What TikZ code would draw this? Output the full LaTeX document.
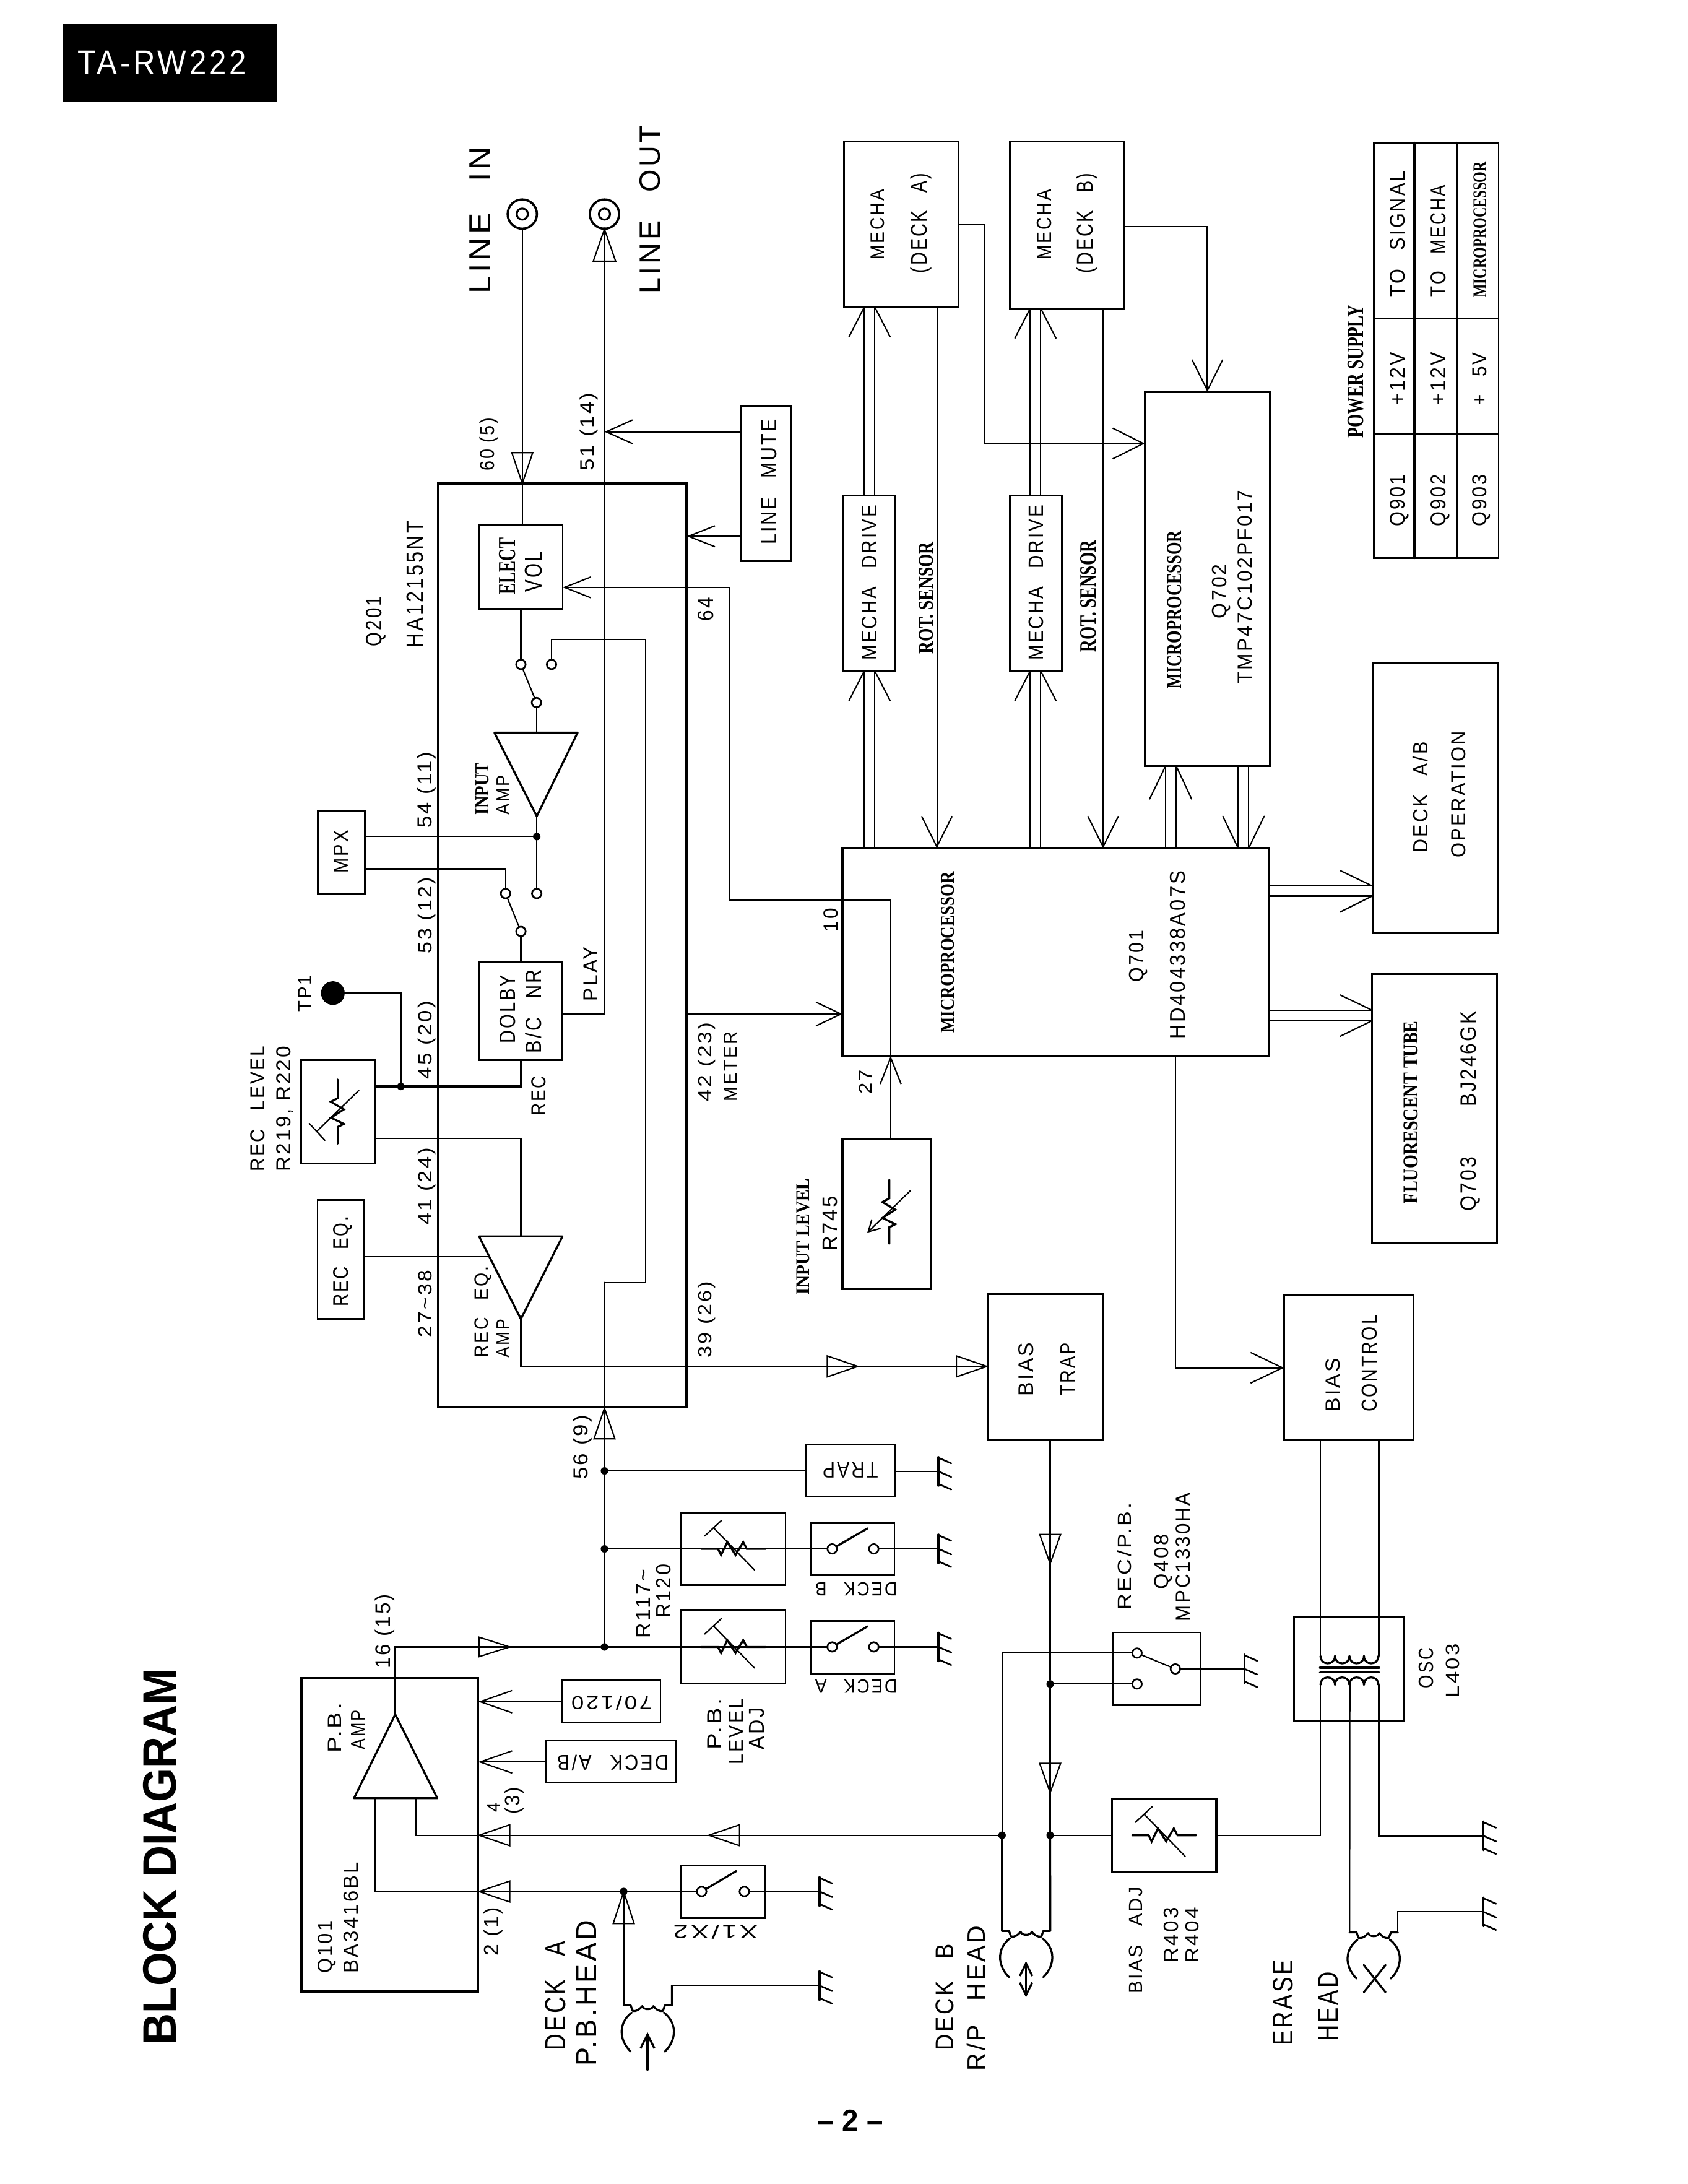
\documentclass[tikz,border=0pt]{standalone}
\usepackage{graphicx}
\usepackage{fontspec}
\usetikzlibrary{arrows.meta,calc}
\setmainfont{Liberation Sans}
\newfontfamily\plt{Liberation Sans}[LetterSpace=10,WordSpace=2.6]
\newfontfamily\pltn{Liberation Sans}[LetterSpace=9,WordSpace=1]
\newfontfamily\srf{Liberation Serif}
\newcommand\setsans{\normalfont\plt\fontsize{10}{12}\selectfont}
\newcommand\setnum{\normalfont\pltn\fontsize{10}{12}\selectfont}
\newcommand\setwh{\normalfont\plt\fontsize{10}{12}\selectfont\color{white}}
\newcommand\setser{\normalfont\srf\bfseries\fontsize{10}{12}\selectfont}
\newcommand\setbold{\normalfont\bfseries\fontsize{10}{12}\selectfont}
\newsavebox\mytbox
\newsavebox\mycbox
\newcounter{tc}
% fits text (font #1, length #2, cap height #3, text #4); run inside node text
\newcommand\fitted[4]{\sbox\mytbox{#1#4}\sbox\mycbox{#1H}%
 \edef\wdT{\the\wd\mytbox}\edef\htT{\the\ht\mycbox}%
 \pgfmathsetmacro\sxx{abs(#2)/\wdT}\pgfmathsetmacro\syy{abs(#3)/\htT}%
 \scalebox{\sxx}[\syy]{#1#4}}
% rotated text: xl xr ybottom ytop
\newcommand\vtxt[6][\setsans]{\stepcounter{tc}%
 \node[tx,rotate=90,anchor=base] (t\arabic{tc}) at ({#3},{(#4+#5)/2}) {\fitted{#1}{#4-#5}{#3-#2}{#6}};}
% upside-down text: x1 x2 ybase ycap
\newcommand\ftxt[6][\setsans]{\stepcounter{tc}%
 \node[tx,rotate=180,anchor=base] (t\arabic{tc}) at ({(#2+#3)/2},{#4}) {\fitted{#1}{#3-#2}{#5-#4}{#6}};}
% horizontal text: x1 x2 ycap ybase
\newcommand\htxt[6][\setsans]{\stepcounter{tc}%
 \node[tx,anchor=base] (t\arabic{tc}) at ({(#2+#3)/2},{#5}) {\fitted{#1}{#3-#2}{#5-#4}{#6}};}
% box: name x1 y1 x2 y2
\newcommand\blk[6][blkst]{\node[#1,minimum width={(#5-#3)*1pt},minimum height={(#6-#4)*1pt}] (#2) at ({(#3+#5)/2},{(#4+#6)/2}) {};}
\newcommand\jdot[3]{\node[jd] (#1) at (#2,#3) {};}
\newcommand\cont[3]{\node[ctc] (#1) at (#2,#3) {};}
\newcommand\gnd[3]{\coordinate (#1) at (#2,#3);
 \begin{scope}[shift={(#2,#3)}]
 \draw[thk] (0,-10.3)--(0,10.3);
 \draw[wire,line width=1.2pt] (0,-9.8)--(9.2,-5.8) (0,0)--(9.2,4) (0,9)--(9.2,13);
 \end{scope}}
\newcommand\otri[5]{\draw[wire,shift={(#1,#2)},rotate=#3] (0,0)--(#4,#5)--(#4,-#5)--cycle;}
\newcommand\rzig{\draw[thk] (-23,0)--(-11.1,0)--(-8.9,4.4)--(-4.4,-4.9)--(1.5,4.4)--(7,-4.9)--(9.6,0)--(23,0);}
\newcommand\rsym[3]{\begin{scope}[shift={(#1,#2)},rotate=#3]\rzig
 \draw[wire] (-14,-14.8)--(15.2,15.2) (-20.7,-9.2)--(-8.6,-20.4);\end{scope}}
\newcommand\rsymarrow[3]{\begin{scope}[shift={(#1,#2)},rotate=#3]\rzig
 \draw[wire,{Straight Barb[length=8pt,width=9pt]}-] (-15,-15.8)--(15.2,15.2);\end{scope}}
\newcommand\head[3]{\coordinate (#1-L) at ({#2-17.3},#3); \coordinate (#1-R) at ({#2+17.3},#3);
 \begin{scope}[shift={(#2,#3)}]
 \draw[thk,line join=round] (-17.3,0)--(-12.3,0)--(-10.9,4) .. controls (-8,4.5) and (-6,3) .. (-4,0.6) .. controls (-3,3.5) and (3,3.5) .. (4,0.6) .. controls (6,3) and (8,4.5) .. (10.9,4)--(12.3,0)--(17.3,0);
 \draw[thk] (-11.6,5.3) .. controls (-20.5,12) and (-21.5,24) .. (-12.3,33.2);
 \draw[thk] (11.6,5.3) .. controls (20.5,12) and (21.5,24) .. (12.3,33.2);
 \end{scope}}
\tikzset{
 tx/.style={inner sep=0pt,outer sep=0pt},
 wire/.style={line width=0.95pt,line cap=round},
 thk/.style={line width=1.45pt,line cap=round},
 blkst/.style={draw,line width=1.3pt,inner sep=0pt,outer sep=0pt},
 blkthk/.style={draw,line width=1.6pt,inner sep=0pt,outer sep=0pt},
 jd/.style={circle,fill=black,minimum size=5.4pt,inner sep=0pt,outer sep=0pt},
 ctc/.style={circle,draw,fill=white,line width=1.2pt,minimum size=6.8pt,inner sep=0pt,outer sep=0pt},
 vtip/.style 2 args={-{Straight Barb[length=#1pt,width=#2pt]}},
}
\begin{document}
\begin{tikzpicture}[x=1pt,y=-1pt]
\useasboundingbox (0,0) rectangle (1212,1568);
\fill[white] (0,0) rectangle (1212,1568);
% ---- boxes
\blk[draw,fill=black,inner sep=0pt]{title}{45.2}{17.7}{198.4}{73.1}
\blk[blkthk]{ic}{314.5}{347}{493}{1010.5}
\blk{ev}{344.4}{376.8}{404}{437}
\blk{mute}{532}{291.5}{568}{403}
\blk{mpx}{228.2}{582}{262}{641.5}
\blk{dolby}{344}{690.4}{403.8}{761}
\blk{rec}{216.4}{761}{269.4}{835.3}
\blk{receq}{228}{861.5}{261.6}{947}
\blk{mechaA}{606}{101.7}{688.3}{220.4}
\blk{mechaB}{725}{101.7}{807.4}{221.4}
\blk{driveA}{605.7}{355.8}{642.4}{481.6}
\blk{driveB}{725}{355.8}{762.5}{481.6}
\blk[blkthk]{q702}{822}{281.3}{911.8}{549.7}
\blk[blkthk]{q701}{605}{609}{911}{758}
\blk{ps}{986.6}{102.4}{1076}{400.7}
\blk{deckop}{985.5}{475.8}{1075.4}{669.8}
\blk{fluor}{985.2}{699.4}{1075}{892.7}
\blk[blkthk]{r745}{605}{817.9}{668.6}{925.5}
\blk{biastrap}{709.4}{929.2}{791.7}{1034}
\blk{biasctl}{922}{929.5}{1014.8}{1034}
\blk{trap}{579}{1037}{642.5}{1074.4}
\blk{r120}{489.2}{1085.8}{564}{1138}
\blk{r117}{489.2}{1155.9}{564}{1208.7}
\blk{swB}{582.5}{1093.6}{642.2}{1130.7}
\blk{swA}{582.5}{1163.6}{642.2}{1201.7}
\blk{q408}{798.7}{1172}{862}{1224.3}
\blk{osc}{928.9}{1161}{1007.8}{1235.5}
\blk[blkthk]{biasadj}{798.4}{1291.5}{873.2}{1344}
\blk[blkthk]{q101}{216.4}{1204.8}{343.3}{1429.7}
\blk{n70}{403.5}{1206.4}{474.2}{1236.7}
\blk{deckab}{391.6}{1249.4}{485}{1279.7}
\blk{swX}{488.5}{1339.4}{549}{1376.9}
% ---- jacks
\node[circle,draw,line width=1.6pt,minimum size=21pt,inner sep=0pt,outer sep=0pt] (jin) at (375,153.7) {};
\node[circle,draw,line width=1.4pt,minimum size=8pt,inner sep=0pt] (jinc) at (375,153.7) {};
\node[circle,draw,line width=1.6pt,minimum size=21pt,inner sep=0pt,outer sep=0pt] (jout) at (434,153.7) {};
\node[circle,draw,line width=1.4pt,minimum size=8pt,inner sep=0pt] (joutc) at (434,153.7) {};
\node[circle,fill=black,minimum size=17pt,inner sep=0pt,outer sep=0pt] (tp) at (239,713) {};
% ---- junctions
\jdot{j1}{434}{1182.4}\jdot{j2}{434}{1112}\jdot{j3}{434}{1056}
\jdot{jmpx}{385.4}{600.6}\jdot{jtp}{287.8}{780}
\jdot{jq}{719.5}{1317.6}\jdot{jb}{754}{1317.6}\jdot{jr}{754}{1209}\jdot{jhead}{447.8}{1358}
% ---- grounds
\gnd{gT}{673.8}{1056.4}\gnd{gB}{673.8}{1112}\gnd{gA}{673.8}{1182.4}
\gnd{g408}{893.5}{1198.2}\gnd{g1}{1065}{1318}\gnd{g2}{1065}{1372.6}
\gnd{gX}{588.4}{1358}\gnd{gH}{588.4}{1425.5}
% ---- heads
\head{hA}{465.1}{1439.7}\head{hB}{736.8}{1386.3}\head{hE}{986.3}{1387.3}
\draw[thk,{Straight Barb[length=10pt,width=10pt]}-] (464.9,1459)--(464.9,1486);
\draw[thk,{Straight Barb[length=9pt,width=9pt]}-{Straight Barb[length=9pt,width=9pt]}] (736.7,1408)--(736.7,1434);
\draw[thk] (979.2,1410.8)--(994.8,1430.3) (994.8,1410.8)--(979.2,1430.3);
% ---- contacts
\cont{sw1a}{374}{477}\cont{sw1b}{396}{477}\cont{sw1c}{385.2}{504.4}
\cont{sw2a}{363}{641.5}\cont{sw2b}{385.4}{641.5}\cont{sw2c}{374}{668.7}
\cont{sb1}{597.5}{1112}\cont{sb2}{627.4}{1112}
\cont{sa1}{597.5}{1182.4}\cont{sa2}{627.4}{1182.4}
\cont{sx1}{503.8}{1358}\cont{sx2}{534.4}{1358}
\cont{s4a}{816.4}{1186.8}\cont{s4b}{816.4}{1209}\cont{s4c}{843.9}{1198.2}
% ---- amplifiers
\coordinate (a1t) at (385.2,526); \coordinate (a1o) at (385.4,586);
\coordinate (a2t) at (374,887.7); \coordinate (a2o) at (374,947);
\coordinate (a3o) at (283.8,1230.8);
\draw[thk,line join=round] (355,526)--(414.7,526)--(a1o)--cycle;
\draw[thk,line join=round] (344,887.7)--(403.8,887.7)--(a2o)--cycle;
\draw[thk,line join=round] (254.2,1291)--(314,1291)--(a3o)--cycle;
% ---- resistor symbols
\rsym{242.5}{798}{90}\rsym{526.6}{1112}{0}\rsym{526.6}{1182.4}{0}\rsym{835.8}{1317.6}{0}
\rsymarrow{638.5}{870}{90}
% ---- signal wires
\draw[wire] (jin.south)--(jin |- ev.north);
\draw[wire] (dolby.east |- 0,728)-|(jout.south);
\draw[wire,vtip={19}{17}] (mute.west |- 0,310)--(jout |- 0,310);
\draw[wire,vtip={19}{15}] (mute.west |- 0,385)--(ic.east |- 0,385);
\coordinate (c27) at (639.5,817.9);
\draw[wire,vtip={19}{15}] (c27)--(c27 |- q701.south);
\draw[wire,vtip={19}{15}] (c27 |- q701.south)--(639.5,646.2)--(523.6,646.2)--(523.6,421.7)--(ev.east |- 0,421.7);
\draw[thk] (sw1a |- ev.south)--(sw1a);
\draw[wire] (sw1a)--(sw1c);
\draw[wire] (sw1c)--(a1t);
\draw[wire] (sw1b)--(396,459)--(463.6,459)--(463.6,921)--(434,921)--(j1);
\draw[wire] (a1o)--(jmpx);
\draw[wire] (jmpx)--(sw2b);
\draw[wire] (mpx.east |- jmpx)--(jmpx);
\draw[wire] (mpx.east |- 0,623.8)-|(sw2a);
\draw[wire] (sw2a)--(sw2c);
\draw[thk] (sw2c)--(sw2c |- dolby.north);
\draw[thk] (sw2c |- dolby.south)|-(jtp);
\draw[thk] (jtp)--(rec.east |- jtp);
\draw[wire] (tp)-|(jtp);
\draw[wire] (rec.east |- 0,817.3)-|(a2t);
\draw[wire] (receq.east |- 0,902.3)--(350.5,902.3);
\draw[wire,vtip={18}{17}] (ic.east |- 0,728)--(q701.west |- 0,728);
\draw[wire] (a2o)|-(biastrap.west |- 0,981);
% mecha pairs
\draw[wire] (620.6,0 |- q701.north)--(620.6,0 |- driveA.south) (628.1,0 |- q701.north)--(628.1,0 |- driveA.south);
\draw[wire] (620.6,0 |- driveA.north)--(620.6,0 |- mechaA.south) (628.1,0 |- driveA.north)--(628.1,0 |- mechaA.south);
\draw[wire] (739.7,0 |- q701.north)--(739.7,0 |- driveB.south) (747.2,0 |- q701.north)--(747.2,0 |- driveB.south);
\draw[wire] (739.7,0 |- driveB.north)--(739.7,0 |- mechaB.south) (747.2,0 |- driveB.north)--(747.2,0 |- mechaB.south);
\foreach \ax/\bx/\yy in {620.6/628.1/220.4,620.6/628.1/481.6,739.7/747.2/221.4,739.7/747.2/481.6}
 \draw[wire] (\ax,\yy)--++(-11,21.4) (\bx,\yy)--++(11,21.4);
\draw[wire,vtip={22}{22}] (672.7,0 |- mechaA.south)--(672.7,0 |- q701.north);
\draw[wire,vtip={22}{22}] (792,0 |- mechaB.south)--(792,0 |- q701.north);
\draw[wire,vtip={22}{22}] (mechaA.east |- 0,161.2)--(706.7,161.2)--(706.7,318.4)--(q702.west |- 0,318.4);
\draw[wire,vtip={22}{22}] (mechaB.east |- 0,162.6)-|(866.9,0 |- q702.north);
\draw[wire] (837,0 |- q701.north)--(837,0 |- q702.south) (844.4,0 |- q701.north)--(844.4,0 |- q702.south);
\draw[wire] (837,549.7)--++(-11.6,24) (844.4,549.7)--++(11.2,24);
\draw[wire] (889,0 |- q702.south)--(889,0 |- q701.north) (896.5,0 |- q702.south)--(896.5,0 |- q701.north);
\draw[wire] (889,609)--++(-11,-23) (896.5,609)--++(11.2,-23);
\draw[wire] (q701.east |- 0,636)--(deckop.west |- 0,636) (q701.east |- 0,643.3)--(deckop.west |- 0,643.3);
\draw[wire] (985.2,636)--++(-23,-11) (985.2,643.3)--++(-23,11.5);
\draw[wire] (q701.east |- 0,725.3)--(fluor.west |- 0,725.3) (q701.east |- 0,732.8)--(fluor.west |- 0,732.8);
\draw[wire] (985.2,725.3)--++(-23,-11) (985.2,732.8)--++(-23,11.2);
\draw[wire,vtip={23}{22}] (843.8,0 |- q701.south)|-(biasctl.west |- 0,982);
% power table
\draw[thk] (1015.5,0 |- ps.north)--(1015.5,0 |- ps.south) (1046,0 |- ps.north)--(1046,0 |- ps.south);
\draw[wire] (ps.west |- 0,229)--(ps.east |- 0,229) (ps.west |- 0,311.6)--(ps.east |- 0,311.6);
% tape path
\draw[wire] (754,0 |- biastrap.south)--(jr);
\draw[thk] (jr)--(jb);
\draw[thk] (jb)--(hB-R);
\draw[wire] (jr)--(s4b);
\draw[wire] (s4a)--(s4c);
\draw[wire] (s4c)--(g408);
\draw[wire] (s4a)-|(jq);
\draw[thk] (jq)--(hB-L);
\draw[wire] (jq)--(298.7,1317.6)--(298.7,1291);
\draw[wire] (jb)--(biasadj.west |- jb);
\draw[wire] (biasadj.east |- jb)-|(948.1,1209.6);
\draw[wire] (948.1,0 |- biasctl.south)--(948.1,1188.9);
\draw[thk] (990,0 |- biasctl.south)--(990,1188.9);
\draw[wire] (990,1209.6)|-(g1);
\draw[wire] (969.2,1209)--(hE-L);
\draw[wire] (hE-R)--(1003.6,1372.6)--(g2);
% coil
\foreach \cx in {948.1,958.5,968.9,979.3}
 \draw[thk] (\cx,1188.9) .. controls (\cx,1196) and ({\cx+10.4},1196) .. ({\cx+10.4},1188.9);
\foreach \cx in {948.1,958.5,968.9,979.3}
 \draw[thk] (\cx,1209.6) .. controls (\cx,1202.5) and ({\cx+10.4},1202.5) .. ({\cx+10.4},1209.6);
\draw[thk] (947.7,1197.3)--(990.2,1197.3) (947.7,1200.5)--(990.2,1200.5);
% P.B. side
\draw[wire] (a3o)|-(j1);
\draw[thk] (j1)--(j3);
\draw[thk] (j3)--(434,921);
\draw[wire] (j3)--(trap.west |- j3);
\draw[wire] (trap.east |- gT)--(gT);
\draw[wire] (j2)--(sb1);
\draw[wire] (j1)--(sa1);
\draw[wire] (sb2)--(gB);
\draw[wire] (sa2)--(gA);
\draw[thk] (sb1)--++(25.5,-14.8);
\draw[thk] (sa1)--++(25.5,-14.8);
\draw[wire,vtip={23}{16}] (n70.west |- 0,1221.7)--(q101.east |- 0,1221.7);
\draw[wire,vtip={23}{16}] (deckab.west |- 0,1265)--(q101.east |- 0,1265);
\draw[thk] (269.2,1291)|-(jhead);
\draw[thk] (jhead)--(sx1);
\draw[thk] (sx2)--(gX);
\draw[thk] (sx1)--++(24.9,-14.7);
\draw[thk] (jhead)--(hA-L);
\draw[thk] (hA-R)--(482.4,1425.5);
\draw[wire] (482.4,1425.5)--(gH);
% open triangles
\otri{434}{164.5}{-90}{23}{8}
\otri{375}{347}{90}{22}{7.5}
\otri{434}{1011}{-90}{22}{7.5}
\otri{616}{981}{180}{22}{7.5}
\otri{708.7}{981}{180}{22}{7.5}
\otri{366}{1182.4}{180}{22}{7}
\otri{344}{1317.6}{0}{22}{7.5}
\otri{509}{1317.6}{0}{22}{7.5}
\otri{344}{1358}{0}{22}{7.5}
\otri{447.8}{1358}{-90}{23}{7.5}
\otri{754}{1122.6}{90}{21}{7.5}
\otri{754}{1287}{90}{21}{7.5}
% ---- texts
\htxt[\setwh]{55.6}{177}{36.7}{53.7}{TA-RW222}
\vtxt[\setbold]{103}{126.3}{1468}{1198}{BLOCK DIAGRAM}
\htxt[\setbold]{587}{634}{1515}{1530}{– 2 –}
\vtxt{337}{352}{211}{105.4}{LINE IN}
\vtxt{459.5}{474}{211}{90}{LINE OUT}
\vtxt[\setnum]{345}{355}{338}{300}{60 (5)}
\vtxt[\setnum]{417}{426.6}{338}{282}{51 (14)}
\vtxt{546.8}{557.5}{391}{301}{LINE MUTE}
\vtxt{501}{512}{446}{429}{64}
\vtxt{263}{274}{464}{428}{Q201}
\vtxt{292}{303.6}{465}{374}{HA12155NT}
\vtxt[\setser]{358.3}{369.8}{426.8}{386}{ELECT}
\vtxt{377}{389}{425}{396}{VOL}
\vtxt[\setser]{341.7}{351}{585}{547.6}{INPUT}
\vtxt{356.7}{366}{585}{556.4}{AMP}
\vtxt[\setnum]{300}{310}{594.5}{540}{54 (11)}
\vtxt[\setnum]{300.6}{310}{684.6}{630}{53 (12)}
\vtxt[\setnum]{300.6}{310}{774.8}{718.7}{45 (20)}
\vtxt[\setnum]{300.6}{310}{879.5}{824}{41 (24)}
\vtxt{300.6}{310}{960}{912}{27\textasciitilde38}
\vtxt[\setnum]{412}{422}{1062}{1016}{56 (9)}
\vtxt[\setnum]{501.7}{511}{790.8}{734}{42 (23)}
\vtxt{519.8}{529}{790.8}{740.8}{METER}
\vtxt[\setnum]{501.7}{511}{974.8}{920}{39 (26)}
\vtxt{239.8}{250}{626.8}{596.2}{MPX}
\vtxt{359}{370}{749}{700}{DOLBY}
\vtxt{377.6}{388.5}{756}{696}{B/C NR}
\vtxt{419}{429}{718.7}{679.5}{PLAY}
\vtxt{381.6}{391.6}{801}{772.4}{REC}
\vtxt{214}{223.6}{726.5}{700}{TP1}
\vtxt{180}{190}{841}{751}{REC LEVEL}
\vtxt[\setnum]{198.6}{208.6}{841}{751}{R219, R220}
\vtxt{239.5}{250}{938}{873.4}{REC EQ.}
\vtxt{341}{350.5}{975}{909}{REC EQ.}
\vtxt{356.7}{366}{975}{947}{AMP}
\vtxt{591.5}{601.5}{669}{652}{10}
\vtxt{617}{626}{785.7}{768}{27}
\vtxt[\setser]{571.9}{581}{929.5}{846}{INPUT LEVEL}
\vtxt{590.6}{600.9}{898}{859}{R745}
\vtxt{625.4}{635}{186.4}{136}{MECHA}
\vtxt{654.3}{665.5}{196}{124.5}{(DECK A)}
\vtxt{744.5}{754.7}{186.4}{136}{MECHA}
\vtxt{773.4}{784.6}{196}{124.5}{(DECK B)}
\vtxt{619}{629.5}{474}{362.6}{MECHA DRIVE}
\vtxt{738.7}{749}{474}{362.6}{MECHA DRIVE}
\vtxt[\setser]{660}{670}{469.7}{389}{ROT. SENSOR}
\vtxt[\setser]{776}{787}{468}{388}{ROT. SENSOR}
\vtxt[\setser]{838}{848}{494.5}{381}{MICROPROCESSOR}
\vtxt{870.3}{880.5}{444}{405}{Q702}
\vtxt{889}{899}{491}{351.7}{TMP47C102PF017}
\vtxt[\setser]{967.9}{979}{314.3}{219}{POWER SUPPLY}
\vtxt{998}{1008.5}{213}{122.8}{TO SIGNAL}
\vtxt{1027.5}{1038}{213}{133}{TO MECHA}
\vtxt[\setser]{1058}{1067}{213.6}{116}{MICROPROCESSOR}
\vtxt{998}{1008.5}{291}{253}{+12V}
\vtxt{1027.5}{1038}{291}{253}{+12V}
\vtxt{1057.5}{1067.5}{291}{253}{+ 5V}
\vtxt{998}{1008.5}{378}{340.5}{Q901}
\vtxt{1027.5}{1038}{378}{340.5}{Q902}
\vtxt{1057.5}{1067.5}{378}{340.5}{Q903}
\vtxt{1014.8}{1025}{612}{532.6}{DECK A/B}
\vtxt{1042}{1052}{615.8}{525}{OPERATION}
\vtxt[\setser]{675.8}{685}{741.5}{626}{MICROPROCESSOR}
\vtxt{810.8}{821}{705}{668}{Q701}
\vtxt{840.4}{851}{746}{625}{HD404338A07S}
\vtxt[\setser]{1008}{1018}{864}{733}{FLUORESCENT TUBE}
\vtxt{1048.8}{1059.7}{794.5}{726}{BJ246GK}
\vtxt{1048.8}{1059.7}{869.4}{830.4}{Q703}
\vtxt{731.5}{742}{1002.5}{963.8}{BIAS}
\vtxt{761.5}{771.7}{1002}{964}{TRAP}
\vtxt{952}{962}{1013.7}{975}{BIAS}
\vtxt{978}{988.7}{1013.7}{944}{CONTROL}
\vtxt{457}{467}{1176}{1126.5}{R117\textasciitilde}
\vtxt{471.5}{481.7}{1161.7}{1123}{R120}
\vtxt[\setnum]{270}{280.4}{1198}{1144.5}{16 (15)}
\vtxt{508}{518}{1256}{1219.4}{P.B.}
\vtxt{523.5}{533.4}{1266.7}{1219.4}{LEVEL}
\vtxt{538}{548.7}{1256}{1226}{ADJ}
\vtxt{235.8}{245.3}{1258.6}{1222.7}{P.B.}
\vtxt{252.1}{262.3}{1256}{1227.6}{AMP}
\vtxt{350}{359}{1301}{1294}{4}
\vtxt{362.7}{373}{1302.6}{1283}{(3)}
\vtxt[\setnum]{348}{358.2}{1404.3}{1369.4}{2 (1)}
\vtxt{228.4}{238.5}{1416.7}{1379}{Q101}
\vtxt{247}{257.2}{1416.7}{1336.8}{BA3416BL}
\vtxt{391.6}{405.9}{1472}{1393.8}{DECK A}
\vtxt{413.7}{428}{1483.5}{1378.5}{P.B.HEAD}
\vtxt{672}{684.6}{1472}{1395.5}{DECK B}
\vtxt{694.9}{707.3}{1486.8}{1382.4}{R/P HEAD}
\vtxt{914.4}{928.4}{1468.8}{1406.9}{ERASE}
\vtxt{946.5}{960.5}{1465.6}{1415.7}{HEAD}
\vtxt{810.8}{820.2}{1431.3}{1354.7}{BIAS ADJ}
\vtxt{835.8}{846}{1409.2}{1369.4}{R403}
\vtxt{851.4}{860.7}{1409.2}{1369.4}{R404}
\vtxt{803}{812.4}{1155.9}{1079}{REC/P.B.}
\vtxt{829}{838.9}{1141.2}{1101.4}{Q408}
\vtxt{844.5}{854.5}{1164}{1071.8}{MPC1330HA}
\vtxt{1018.8}{1029}{1212}{1183}{OSC}
\vtxt{1038.4}{1047.8}{1219}{1180}{L403}
\ftxt{590.7}{630.5}{1050}{1061}{TRAP}
\ftxt{410.3}{468}{1217.8}{1227}{70/120}
\ftxt{400}{480}{1260}{1270.6}{DECK A/B}
\ftxt{585.3}{644.2}{1136}{1145.4}{DECK B}
\ftxt{585.3}{644.2}{1206}{1215.5}{DECK A}
\ftxt{483.4}{544}{1382.4}{1391.6}{X1/X2}
\end{tikzpicture}
\end{document}
